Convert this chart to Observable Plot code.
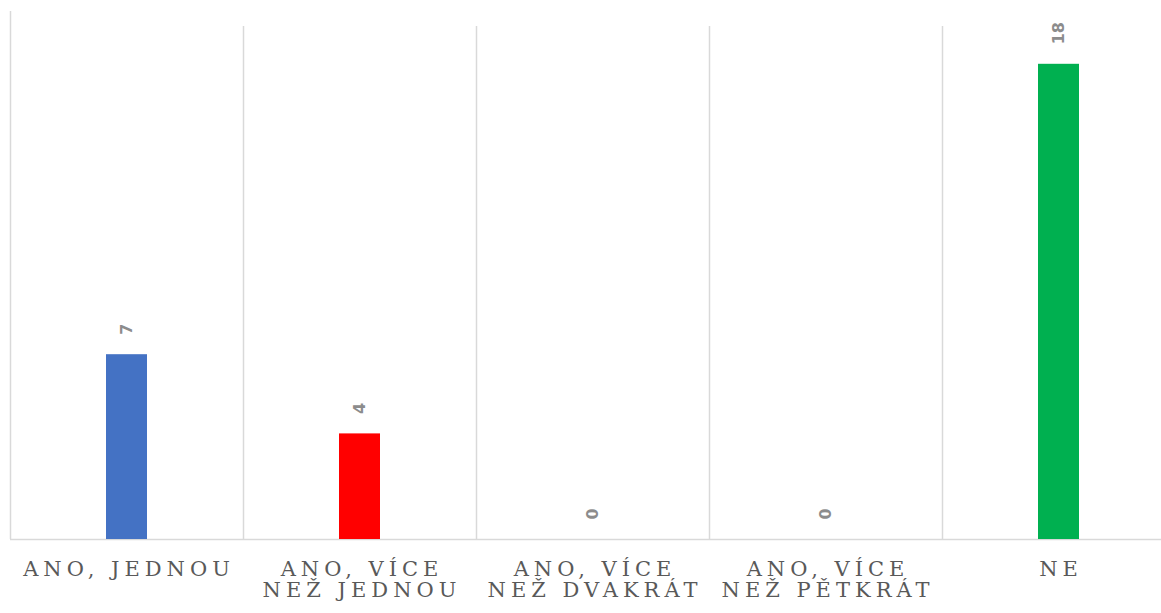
<!DOCTYPE html>
<html>
<head>
<meta charset="utf-8">
<script src="https://cdn.jsdelivr.net/npm/d3@7"></script>
<script src="https://cdn.jsdelivr.net/npm/@observablehq/plot@0.6"></script>
<style>
  html, body { margin: 0; padding: 0; background: #fff; overflow: hidden; }
  g[font-family="DejaVu Serif"] text { letter-spacing: 5px; }
</style>
</head>
<body>
<div id="chart"></div>
<script>
const categories = ["ANO, JEDNOU", "ANO, VÍCE\nNEŽ JEDNOU", "ANO, VÍCE\nNEŽ DVAKRÁT", "ANO, VÍCE\nNEŽ PĚTKRÁT", "NE"];
const values = [7, 4, 0, 0, 18];
const colors = ["#4472C4", "#FF0000", "#4472C4", "#4472C4", "#00B050"];
const separators = [0, 1, 2, 3, 4, 5];

const data = categories.map((c, i) => ({i, c, v: values[i], col: colors[i]}));

const chart = Plot.plot({
  width: 1161,
  height: 613,
  marginLeft: 10,
  marginRight: -14,
  marginTop: 11,
  marginBottom: 74,
  x: {domain: [0, 5], axis: null},
  y: {domain: [0, 20], axis: null},
  style: {background: "#fff"},
  marks: [
    Plot.ruleX(separators.slice(0, 1), {x: d => d, y1: 0, y2: 20, stroke: "#d9d9d9", strokeWidth: 1.5}),
    Plot.ruleX(separators.slice(1), {x: d => d, y1: 0, y2: 19.43, stroke: "#d9d9d9", strokeWidth: 1.5}),
    Plot.ruleY([0], {stroke: "#d9d9d9", strokeWidth: 1.5}),
    Plot.rectY(data.filter(d => d.v > 0), {x1: d => d.i, x2: d => d.i + 1, y1: 0, y2: "v", fill: "col", insetLeft: 96, insetRight: 96}),
    Plot.text(data, {x: d => d.i + 0.5, y: "v", text: d => String(d.v), rotate: -90, textAnchor: "start", lineAnchor: "middle", dy: -20, fill: "#8c8c8c", fontSize: 16, fontWeight: "bold", fontFamily: "DejaVu Sans"}),
    Plot.text(data, {x: d => d.i + 0.5, y: 0, text: "c", lineAnchor: "top", dy: 21, dx: 2, fill: "#595959", fontSize: 21, lineHeight: 1.03, fontFamily: "DejaVu Serif"})
  ]
});
document.getElementById("chart").appendChild(chart);
</script>
</body>
</html>
